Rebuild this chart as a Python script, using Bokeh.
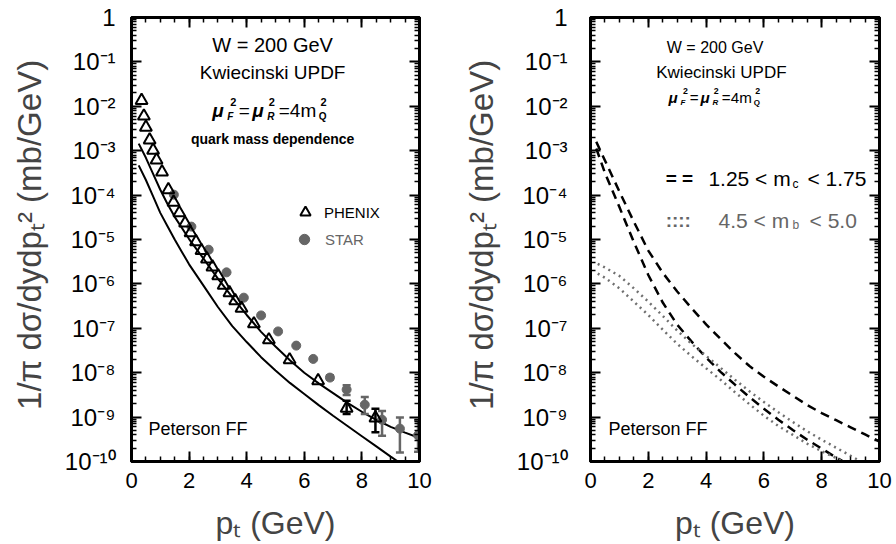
import numpy as np
from bokeh.plotting import figure
from bokeh.models import (Range1d, FixedTicker, LinearAxis, LogAxis, Label, Legend, LegendItem,
                          CustomJSTickFormatter)
from bokeh.layouts import row
from bokeh.embed import file_html
from bokeh.resources import INLINE

FONT = "Liberation Sans"
GREY = "#666666"

# ---------------- data (log10 of cross section) -------------
phenix_pt = [0.35, 0.43, 0.50, 0.63, 0.75, 0.87, 1.06, 1.28, 1.46, 1.66, 1.86, 2.05, 2.24,
             2.43, 2.62, 2.81, 3.01, 3.20, 3.40, 3.60, 3.82, 4.25, 4.77, 5.49, 6.48, 7.47, 8.47]
phenix_log = [-1.87, -2.22, -2.47, -2.76, -2.99, -3.21, -3.48, -3.88, -4.16, -4.40, -4.63, -4.85, -5.05,
              -5.25, -5.44, -5.62, -5.82, -6.03, -6.20, -6.38, -6.55, -6.90, -7.26, -7.71, -8.18, -8.80, -9.02]
phenix_bar_pt = [7.47, 8.47]
phenix_bar_lo = [-8.93, -9.34]
phenix_bar_hi = [-8.63, -8.81]

star_pt = [1.47, 2.08, 2.68, 3.30, 3.90, 4.50, 5.09, 5.72, 6.31, 6.89, 7.47, 8.10, 8.70, 9.32, 9.95]
star_log = [-3.99, -4.71, -5.23, -5.74, -6.31, -6.71, -7.07, -7.39, -7.69, -8.11, -8.38, -8.72, -9.06, -9.26, -9.41]
star_bar_pt = [6.89, 7.47, 8.10, 8.70, 9.32, 9.95]
star_bar_lo = [-8.16, -8.50, -8.93, -9.42, -9.80, -9.78]
star_bar_hi = [-8.06, -8.28, -8.55, -8.86, -9.01, -9.07]

upper_pt = [0.25, 0.5, 0.75, 1.0, 1.25, 1.5, 2.0, 2.5, 3.0, 3.5, 4.0, 4.5, 5.0, 5.5, 6.0,
            6.5, 7.0, 7.5, 8.0, 8.5, 9.0, 9.5, 10.0]
upper_log = [-2.84, -3.16, -3.52, -3.88, -4.20, -4.49, -4.99, -5.43, -5.88, -6.30, -6.70, -7.08, -7.41,
             -7.72, -8.00, -8.24, -8.46, -8.68, -8.88, -9.06, -9.22, -9.35, -9.47]
lower_pt = [0.25, 0.5, 0.75, 1.0, 1.25, 1.5, 1.75, 2.0, 2.5, 3.0, 3.5, 4.0, 4.5, 5.0, 5.5,
            6.0, 6.5, 7.0, 7.5, 8.0, 8.5, 9.0, 9.25]
lower_log = [-3.33, -3.66, -4.03, -4.40, -4.70, -5.00, -5.28, -5.56, -6.04, -6.52, -6.95, -7.31, -7.65,
             -7.95, -8.23, -8.48, -8.73, -8.97, -9.20, -9.43, -9.66, -9.89, -10.0]

charm_hi_pt = [0.2, 0.5, 1.0, 1.5, 2.0, 2.5, 3.0, 3.5, 4.0, 4.5, 5.0, 5.5, 6.0, 6.5, 7.0,
               7.5, 8.0, 8.5, 9.0, 9.5, 10.0]
charm_hi_log = [-2.80, -3.22, -3.92, -4.60, -5.25, -5.75, -6.17, -6.55, -6.91, -7.24, -7.56, -7.85,
                -8.09, -8.31, -8.52, -8.73, -8.91, -9.07, -9.23, -9.39, -9.55]
charm_lo_pt = [0.2, 0.5, 1.0, 1.5, 2.0, 2.5, 3.0, 3.5, 4.0, 4.5, 5.0, 5.5, 6.0, 6.5, 7.0,
               7.5, 8.0, 8.5, 8.75]
charm_lo_log = [-2.95, -3.50, -4.27, -5.06, -5.80, -6.42, -6.92, -7.30, -7.66, -7.98, -8.27, -8.55,
                -8.81, -9.06, -9.29, -9.51, -9.71, -9.91, -10.0]
bottom_hi_pt = [0.25, 0.5, 1.0, 1.5, 2.0, 2.5, 3.0, 3.5, 4.0, 4.5, 5.0, 5.5, 6.0, 6.5, 7.0,
                7.5, 8.0, 8.5, 9.0, 9.3]
bottom_hi_log = [-5.55, -5.63, -5.82, -6.10, -6.40, -6.72, -7.05, -7.35, -7.62, -7.89, -8.16, -8.42,
                 -8.66, -8.89, -9.11, -9.32, -9.51, -9.69, -9.87, -9.98]
bottom_lo_pt = [0.25, 0.5, 1.0, 1.5, 2.0, 2.5, 3.0, 3.5, 4.0, 4.5, 5.0, 5.5, 6.0, 6.5, 7.0,
                7.5, 8.0, 8.5, 8.75]
bottom_lo_log = [-5.77, -5.86, -6.10, -6.40, -6.70, -7.03, -7.35, -7.63, -7.90, -8.16, -8.44, -8.71,
                 -8.97, -9.20, -9.40, -9.60, -9.77, -9.92, -10.0]

y_tick_exps = [0, -1, -2, -3, -4, -5, -6, -7, -8, -9, -10]
y_minor_mantissas = [2, 3, 4, 5, 6, 7, 8, 9]
x_major = [0, 2, 4, 6, 8, 10]
x_minor_step = 0.5

NBSP = "\u00a0"
YLABEL = NBSP + "1/\u03c0 d\u03c3/dydp\u209c\u00b2 (mb/GeV)"
XLABEL = "p\u209c (GeV)"
SUP = str.maketrans("-0123456789", "\u207b\u2070\u00b9\u00b2\u00b3\u2074\u2075\u2076\u2077\u2078\u2079")


def ylog(v):
    return [10.0 ** a for a in v]


def lab(p, x, y, text, size, dx=0, dy=0, align="left", color="black", style="normal"):
    p.add_layout(Label(x=x, y=y, x_offset=dx, y_offset=dy, text=text, text_font=FONT,
                       text_font_size=f"{size:.1f}px", text_font_style=style, text_align=align,
                       text_baseline="middle", text_color=color))


def style_axis(ax, labels=False):
    ax.axis_line_width = 3
    ax.axis_line_color = "black"
    ax.major_tick_in = 10
    ax.major_tick_out = 0
    ax.minor_tick_in = 5
    ax.minor_tick_out = 0
    ax.major_tick_line_width = 2
    ax.minor_tick_line_width = 1.5
    ax.major_tick_line_color = "black"
    ax.minor_tick_line_color = "black"
    if labels:
        ax.major_label_text_font = FONT
        ax.major_label_text_font_size = "22px"
        ax.major_label_text_color = "black"
        ax.major_label_standoff = 11
    else:
        ax.formatter = CustomJSTickFormatter(code="return ''")
        ax.major_label_text_font_size = "8px"
        ax.major_label_standoff = 0
    ax.axis_label = None


def panel(border_left, frame_w, border_right, ystand, ylab_stand):
    p = figure(frame_width=frame_w, frame_height=444, x_range=Range1d(0, 10),
               y_range=Range1d(1e-10, 1), y_axis_type="log", output_backend="svg",
               toolbar_location=None, min_border_left=border_left, min_border_right=border_right,
               min_border_top=17, min_border_bottom=83)
    p.grid.visible = False
    p.outline_line_color = "black"
    p.outline_line_width = 3
    p.background_fill_color = "white"
    yt = [10.0 ** k for k in y_tick_exps]
    ym = [m * 10.0 ** k for k in y_tick_exps[1:] for m in y_minor_mantissas]
    xm = list(np.arange(x_major[0], x_major[-1] + 1e-9, x_minor_step))
    p.xaxis.ticker = FixedTicker(ticks=x_major, minor_ticks=xm)
    p.yaxis.ticker = FixedTicker(ticks=yt, minor_ticks=ym)
    style_axis(p.xaxis[0], labels=True)
    style_axis(p.yaxis[0], labels=True)
    # y tick labels "1", "10⁻¹", ... "10⁻¹⁰"
    ylabels = {str(-k): ("1" if k == 0 else "10" + str(k).translate(SUP)) for k in y_tick_exps}
    p.yaxis.formatter = CustomJSTickFormatter(
        args=dict(labels=ylabels),
        code="return labels[String(-Math.round(Math.log10(tick)))]")
    p.yaxis.major_label_text_font_size = "24px"
    p.yaxis.major_label_standoff = ystand
    p.yaxis.axis_label = YLABEL
    p.yaxis.axis_label_text_font = FONT
    p.yaxis.axis_label_text_font_size = "33px"
    p.yaxis.axis_label_text_font_style = "normal"
    p.yaxis.axis_label_standoff = ylab_stand
    p.xaxis.axis_label = XLABEL
    p.xaxis.axis_label_text_font = FONT
    p.xaxis.axis_label_text_font_size = "32px"
    p.xaxis.axis_label_text_font_style = "normal"
    p.xaxis.axis_label_standoff = 14
    top = LinearAxis(ticker=FixedTicker(ticks=x_major, minor_ticks=xm))
    style_axis(top)
    p.add_layout(top, "above")
    right = LogAxis(ticker=FixedTicker(ticks=yt, minor_ticks=ym))
    style_axis(right)
    p.add_layout(right, "right")
    return p


def mu_line(p, x, y, scale):
    pieces = [("\u03bc", 0, 0, 19, "bold italic"), ("F", 15, 6, 10, "bold italic"),
              ("2", 18, -8, 11, "bold"), ("=", 26.6, 0, 19, "normal"),
              ("\u03bc", 40, 0, 19, "bold italic"), ("R", 55, 6, 10, "bold italic"),
              ("2", 56.6, -8, 11, "bold"), ("=4m", 66.6, 0, 19, "normal"),
              ("Q", 106.6, 6, 10, "bold"), ("2", 108.3, -8, 11, "bold")]
    for t, dx, dy, s, st in pieces:
        lab(p, x, y, t, s * scale, dx=dx * scale, dy=-dy * scale, style=st)


# ---------------- left panel ----------------
p1 = panel(131, 288, 31, ystand=16, ylab_stand=14)
p1.line(upper_pt, ylog(upper_log), line_width=2, color="black")
p1.line(lower_pt, ylog(lower_log), line_width=2, color="black")
p1.segment(x0=star_bar_pt, y0=ylog(star_bar_lo), x1=star_bar_pt, y1=ylog(star_bar_hi),
           line_width=2.5, color=GREY)
p1.scatter(star_bar_pt, ylog(star_bar_lo), marker="dash", size=8, line_width=2.5, color=GREY)
p1.scatter(star_bar_pt, ylog(star_bar_hi), marker="dash", size=8, line_width=2.5, color=GREY)
star_r = p1.scatter(star_pt, ylog(star_log), marker="circle", size=9, fill_color=GREY, line_color=GREY)
p1.segment(x0=phenix_bar_pt, y0=ylog(phenix_bar_lo), x1=phenix_bar_pt, y1=ylog(phenix_bar_hi),
           line_width=2.5, color="black")
p1.scatter(phenix_bar_pt, ylog(phenix_bar_lo), marker="dash", size=8, line_width=2.5, color="black")
p1.scatter(phenix_bar_pt, ylog(phenix_bar_hi), marker="dash", size=8, line_width=2.5, color="black")
phen_r = p1.scatter(phenix_pt, ylog(phenix_log), marker="triangle", size=12, fill_color=None,
                    line_color="black", line_width=2)

for item, loc, col, stand in [(LegendItem(label="PHENIX", renderers=[phen_r]), (161, 236), "black", 6),
                              (LegendItem(label="STAR", renderers=[star_r]), (160, 209), GREY, 8)]:
    lg = Legend(items=[item], location=loc, padding=0, margin=0, spacing=0, glyph_width=26,
                glyph_height=26, label_standoff=stand, label_text_font=FONT,
                label_text_font_size="15px", label_text_color=col, border_line_color=None,
                background_fill_alpha=0)
    p1.add_layout(lg)

lab(p1, 4.90, 10 ** -0.63, "W = 200 GeV", 20, align="center")
lab(p1, 4.90, 10 ** -1.24, "Kwiecinski UPDF", 19, align="center")
mu_line(p1, 2.80, 10 ** -2.09, 1.0)
lab(p1, 4.90, 10 ** -2.73, "quark mass dependence", 14, align="center", style="bold")
lab(p1, 0.59, 10 ** -9.26, "Peterson FF", 18)

# ---------------- right panel ----------------
p2 = panel(140, 289, 17, ystand=23, ylab_stand=14)
p2.line(charm_hi_pt, ylog(charm_hi_log), line_width=2.5, color="black", line_dash="9 6")
p2.line(charm_lo_pt, ylog(charm_lo_log), line_width=2.5, color="black", line_dash="9 6")
p2.line(bottom_hi_pt, ylog(bottom_hi_log), line_width=2.5, color="#707070", line_dash="2 4")
p2.line(bottom_lo_pt, ylog(bottom_lo_log), line_width=2.5, color="#707070", line_dash="2 4")

lab(p2, 4.31, 10 ** -0.68, "W = 200 GeV", 16, align="center")
lab(p2, 4.53, 10 ** -1.24, "Kwiecinski UPDF", 17, align="center")
mu_line(p2, 2.70, 10 ** -1.80, 0.8)
lab(p2, 2.60, 10 ** -3.63, "= =", 19, style="bold")
lab(p2, 2.60, 10 ** -4.57, "::::", 19, color=GREY, style="bold")
for x0, ycen, parts, offs, col in [(4.08, -3.63, ("1.25 < m", "c", "< 1.75"), (84, 99), "black"),
                                   (4.43, -4.57, ("4.5 < m", "b", "< 5.0"), (74, 91), GREY)]:
    lab(p2, x0, 10 ** ycen, parts[0], 21, dx=0, color=col)
    lab(p2, x0, 10 ** ycen, parts[1], 12, dx=offs[0], dy=-5, color=col)
    lab(p2, x0, 10 ** ycen, parts[2], 21, dx=offs[1], color=col)
lab(p2, 0.62, 10 ** -9.26, "Peterson FF", 18)

layout = row(p1, p2)
open("out.html", "w").write(file_html(layout, INLINE))
